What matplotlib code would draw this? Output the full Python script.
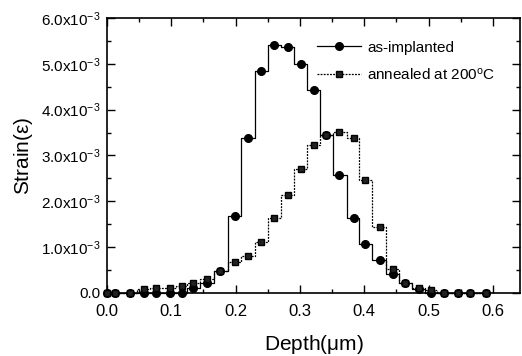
import matplotlib
matplotlib.use("Agg")
import matplotlib.pyplot as plt
from matplotlib.ticker import MultipleLocator, FuncFormatter

plt.rcParams['font.family'] = ['Liberation Sans', 'DejaVu Sans']
plt.rcParams['mathtext.fontset'] = 'custom'
plt.rcParams['mathtext.rm'] = 'Liberation Sans'
plt.rcParams['mathtext.it'] = 'Liberation Sans:italic'

depth = [0.0, 0.013, 0.036, 0.058, 0.076, 0.098, 0.116, 0.134, 0.156, 0.176,
         0.199, 0.219, 0.24, 0.259, 0.281, 0.301, 0.321, 0.341, 0.361, 0.384,
         0.401, 0.424, 0.444, 0.463, 0.485, 0.503, 0.524, 0.545, 0.565, 0.589]
as_implanted = [0, 0, 0, 0, 0, 0, 0, 0.12, 0.21, 0.47,
                1.68, 3.38, 4.85, 5.41, 5.36, 5.00, 4.43, 3.45, 2.58, 1.64,
                1.07, 0.72, 0.41, 0.21, 0.09, 0.01, 0, 0, 0, 0]
annealed = [0, 0, 0, 0.08, 0.12, 0.12, 0.15, 0.21, 0.30, 0.47,
            0.68, 0.81, 1.11, 1.64, 2.14, 2.71, 3.22, 3.45, 3.52, 3.39,
            2.47, 1.43, 0.52, 0.22, 0.12, 0.07, 0, 0, 0, 0]
labels = ['as-implanted', r'annealed at 200$^{\mathrm{o}}$C']

fig = plt.figure(figsize=(5.22, 3.56), dpi=100)
ax = fig.add_axes([107/522, 1-293/356, (520-107)/522, (293-18)/356])

ax.plot(depth, [v*1e-3 for v in as_implanted], drawstyle='steps-mid', color='black',
        lw=0.9, marker='o', ms=5.5, label=labels[0], clip_on=False, zorder=3)
ax.plot(depth, [v*1e-3 for v in annealed], drawstyle='steps-mid', color='black',
        lw=0.9, ls=(0, (1.5, 1)), marker='s', ms=4.8, mfc='#222222', label=labels[1],
        clip_on=False, zorder=3)

ax.set_xlim(0, 0.642)
ax.set_ylim(0, 6e-3)
ax.xaxis.set_major_locator(MultipleLocator(0.1))
ax.xaxis.set_minor_locator(MultipleLocator(0.05))
ax.yaxis.set_major_locator(MultipleLocator(1e-3))
ax.yaxis.set_minor_locator(MultipleLocator(0.5e-3))
ax.xaxis.set_major_formatter(FuncFormatter(lambda v, p: f"{v:.1f}"))

def yfmt(v, p):
    if abs(v) < 1e-9:
        return "0.0"
    return r"%.1fx10$^{\mathrm{-3}}$" % (v*1e3)
ax.yaxis.set_major_formatter(FuncFormatter(yfmt))

ax.tick_params(which='both', direction='in', top=True, right=True, width=1)
ax.tick_params(which='major', length=6, labelsize=11)
ax.tick_params(axis='x', which='major', labelsize=12, pad=8)
ax.tick_params(axis='y', which='major', pad=5)
ax.tick_params(which='minor', length=3)
for s in ax.spines.values():
    s.set_linewidth(1.2)

ax.set_xlabel(r'Depth($\mathrm{\mu}$m)', fontsize=15, labelpad=10)
ax.set_ylabel(r'Strain($\mathrm{\varepsilon}$)', fontsize=15, labelpad=4)

ax.legend(loc='upper left', bbox_to_anchor=(0.508, 0.918), frameon=False,
          fontsize=11, handlelength=2.9, numpoints=1, borderpad=0,
          borderaxespad=0, labelspacing=0.8, handletextpad=0.4)

fig.savefig('out.png', dpi=100)
